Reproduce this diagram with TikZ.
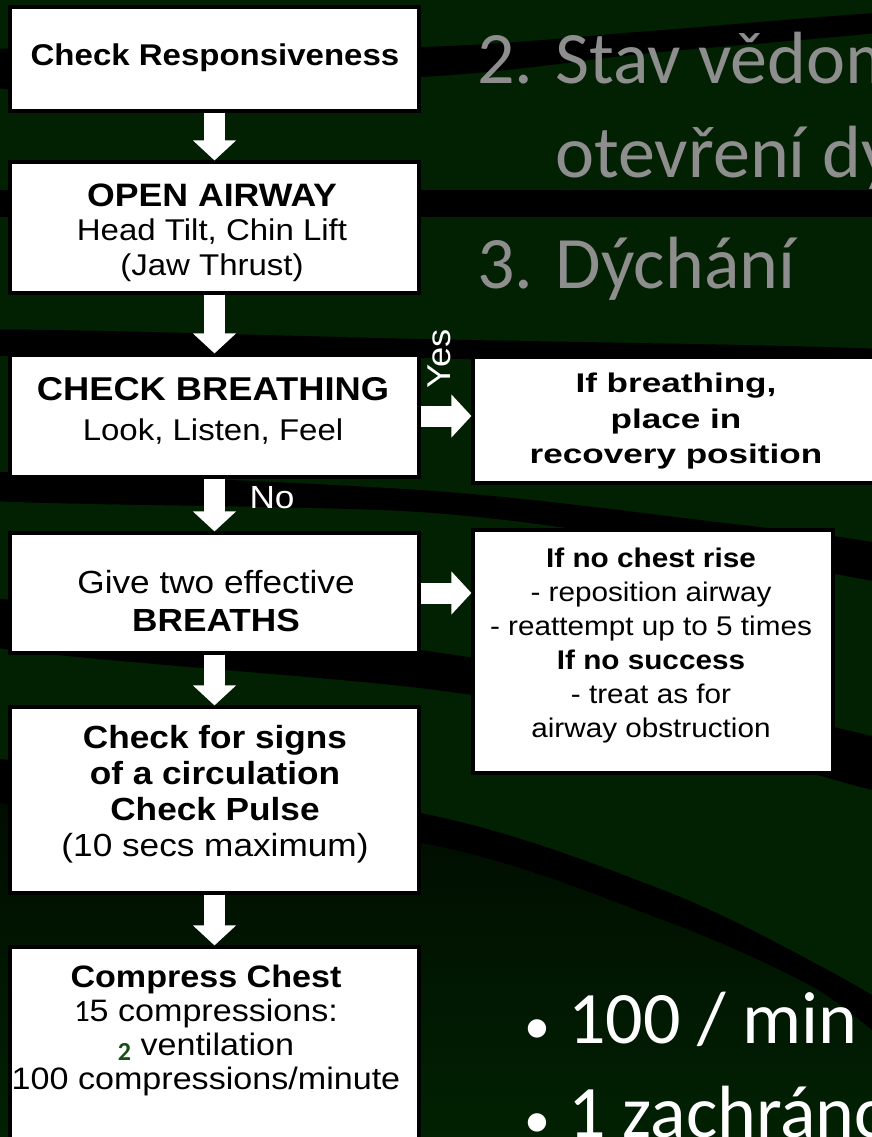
\documentclass[tikz,border=0pt]{standalone}
\usepackage{fontspec}
\setmainfont[FakeStretch=1.1]{Liberation Sans}
\newfontfamily\widesans[FakeStretch=1.3]{Liberation Sans}
\newfontfamily\slidefont{Carlito}
\usepackage{tikz}
\usetikzlibrary{arrows.meta}
\definecolor{slidebg}{RGB}{1,33,2}
\definecolor{slidedark}{RGB}{1,12,1}
\definecolor{slidegray}{RGB}{142,142,142}
\definecolor{twogreen}{RGB}{22,78,22}

\begin{document}
\begin{tikzpicture}[x=0.5pt,y=-0.5pt,
  box/.style={draw=black,line width=1.6pt,fill=white,inner sep=0pt},
  boxtext/.style={align=center,inner sep=0pt,anchor=north,text=black},
  flow/.style={white,line width=10.5pt,-{Triangle[width=21pt,length=10pt]}},
  slide/.style={anchor=base west,inner sep=0pt,font=\slidefont\fontsize{37}{44}\selectfont}]
\useasboundingbox (0,0) rectangle (872,1137);
\clip (0,0) rectangle (872,1137);
\fill[slidebg] (0,0) rectangle (872,1137);
\shade[top color=slidedark,middle color=slidebg,bottom color=slidebg] plot[smooth] coordinates {(-20,800) (420,843) (663,920) (813,987) (900,1050)} -- (900,1137) -- (-20,1137) -- cycle;
\fill[black] plot[smooth cycle,tension=0.5] coordinates {(-20,50) (420,47) (650,31) (900,12) (900,30) (650,53) (420,77) (-20,88)};
\fill[black] (-20,190) rectangle (900,217);
\fill[black] plot[smooth cycle,tension=0.5] coordinates {(-20,330) (420,339) (900,350) (900,372) (420,358) (-20,355)};
\fill[black] plot[smooth cycle,tension=0.5] coordinates {(-20,472) (420,490) (700,520) (900,548) (900,584) (700,548) (420,512) (-20,500)};
\fill[black] plot[smooth cycle,tension=0.5] coordinates {(-20,598) (420,650) (650,690) (900,745) (900,795) (650,728) (420,688) (-20,645)};
\fill[black] plot[smooth cycle,tension=0.5] coordinates {(-20,758) (420,813) (663,890) (813,962) (900,1015) (900,1050) (813,987) (663,920) (420,843) (-20,800)};

\node[box,minimum width=204.5pt,minimum height=52pt] (resp) at (214.5,59) {};
\node[box,minimum width=204.5pt,minimum height=65.5pt] (airway) at (214.5,227.5) {};
\node[box,minimum width=204.5pt,minimum height=61pt] (breath) at (214.5,416) {};
\node[box,minimum width=204.5pt,minimum height=60pt] (give) at (214.5,593) {};
\node[box,minimum width=204.5pt,minimum height=93pt] (signs) at (214.5,800) {};
\node[box,minimum width=204.5pt,minimum height=101.5pt] (compress) at (214.5,1048.5) {};
\node[box,minimum width=208.5pt,minimum height=63pt] (recov) at (681.5,420) {};
\node[box,minimum width=180pt,minimum height=121.5pt] (chest) at (653,651.5) {};

\node[boxtext,font=\bfseries\fontsize{15}{18}\selectfont] (resp-t) at (215,43) {Check Responsiveness};
\node[boxtext,font=\fontsize{15}{17.25}\selectfont] (airway-t) at (212,183) {\textbf{\fontsize{16.2}{17.25}\selectfont OPEN AIRWAY}\\Head Tilt, Chin Lift\\(Jaw Thrust)};
\node[boxtext,font=\fontsize{15}{20}\selectfont] (breath-t) at (213,377) {\textbf{\fontsize{16.5}{20}\selectfont CHECK BREATHING}\\Look, Listen, Feel};
\node[boxtext,font=\widesans\bfseries\fontsize{13.5}{17.75}\selectfont] (recov-t) at (676,373) {If breathing,\\place in\\recovery position};
\node[boxtext,font=\fontsize{16}{19}\selectfont] (give-t) at (216,570) {Give two effective\\\textbf{BREATHS}};
\node[boxtext,font=\fontsize{13.5}{17}\selectfont] (chest-t) at (651,548) {\textbf{If no chest rise}\\- reposition airway\\- reattempt up to 5 times\\\textbf{If no success}\\- treat as for\\airway obstruction};
\node[boxtext,font=\fontsize{16}{18}\selectfont] (signs-t) at (215,725) {\textbf{Check for signs}\\\textbf{of a circulation}\\\textbf{Check Pulse}\\(10 secs maximum)};
\node[boxtext,font=\fontsize{15.5}{17}\selectfont] (compress-t) at (206,965) {\textbf{Compress Chest}\\{\slidefont 1}5 compressions:\\\raisebox{-2.5pt}{\slidefont\bfseries\fontsize{13}{13}\selectfont\color{twogreen}2} ventilation\\100 compressions/minute};

\foreach \a/\b in {resp/airway,airway/breath,breath/give,give/signs,signs/compress}
\draw[flow] (\a) -- (\b);
\draw[flow] (breath.east) -- (breath.east -| recov.west);
\draw[flow] (give.east) -- (give.east -| chest.west);
\node[rotate=90,text=white,inner sep=0pt,font=\fontsize{16.5}{18}\selectfont] (yes) at (439,359) {Yes};
\node[text=white,inner sep=0pt,font=\fontsize{16}{18}\selectfont] (no) at (272,498) {No};

\node[slide,text=slidegray] (item2) at (477,83) {2. Stav vědomí};
\node[slide,text=slidegray] (item2b) at (555,177) {otevření dýchacích cest};
\node[slide,text=slidegray] (item3) at (477,288) {3. Dýchání};
\node[slide,text=white] (rate) at (524,1043) {{\fontsize{26}{26}\selectfont •}\hspace{9pt}100 / min};
\node[slide,text=white] (rescuer) at (524,1137) {{\fontsize{26}{26}\selectfont •}\hspace{9pt}1 zachránce};
\end{tikzpicture}
\end{document}
